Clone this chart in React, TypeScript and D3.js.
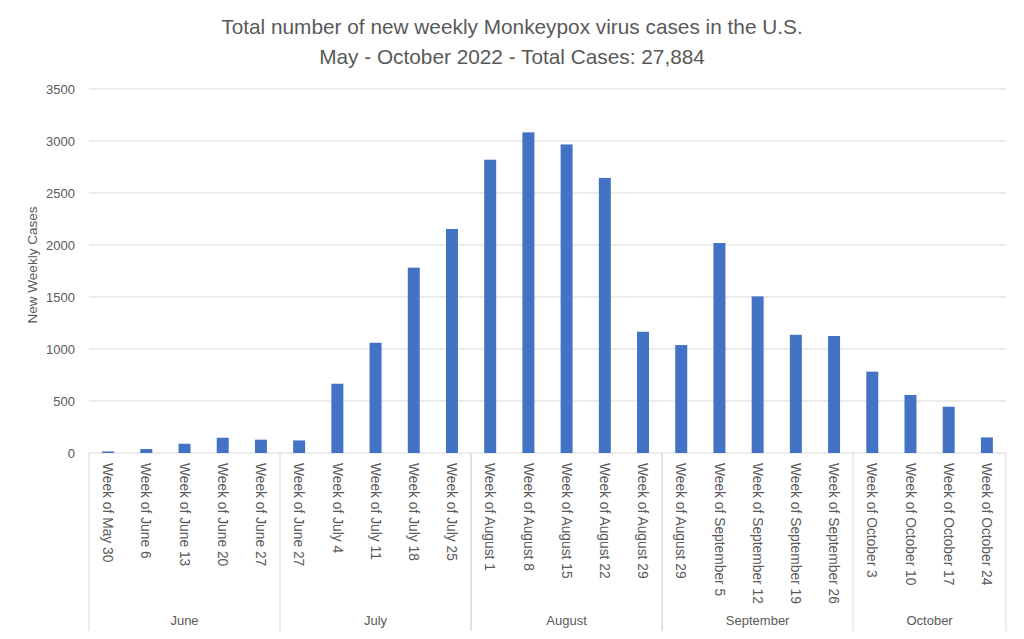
import React from "react";
import * as d3 from "d3";

const weeks: string[] = [
  "Week of May 30", "Week of June 6", "Week of June 13", "Week of June 20", "Week of June 27",
  "Week of June 27", "Week of July 4", "Week of July 11", "Week of July 18", "Week of July 25",
  "Week of August 1", "Week of August 8", "Week of August 15", "Week of August 22", "Week of August 29",
  "Week of August 29", "Week of September 5", "Week of September 12", "Week of September 19", "Week of September 26",
  "Week of October 3", "Week of October 10", "Week of October 17", "Week of October 24",
];
const months: string[] = [
  "June", "June", "June", "June", "June",
  "July", "July", "July", "July", "July",
  "August", "August", "August", "August", "August",
  "September", "September", "September", "September", "September",
  "October", "October", "October", "October",
];
const cases: number[] = [
  15, 38, 89, 147, 128,
  121, 666, 1060, 1782, 2154,
  2820, 3083, 2967, 2645, 1166,
  1038, 2019, 1506, 1137, 1125,
  782, 558, 445, 150,
];
const yTicks: number[] = [0, 500, 1000, 1500, 2000, 2500, 3000, 3500];
const titleLines: string[] = [
  "Total number of new weekly Monkeypox virus cases in the U.S.",
  "May - October 2022 - Total Cases: 27,884",
];
const yTitle = "New Weekly Cases";

const W = 1024;
const H = 639;
const left = 89;
const right = 1006;
const top = 89;
const bottom = 453;
const FONT = "'Liberation Sans', Arial, sans-serif";
const TEXT = "#595959";
const GRID = "#d9d9d9";
const BAR = "#4472C4";

export default function App() {
  const x = d3.scaleBand<number>().domain(d3.range(weeks.length)).range([left, right]).padding(0);
  const y = d3.scaleLinear().domain([0, 3500]).range([bottom, top]);
  const bw = x.bandwidth() / 3.19;

  const groups = d3.groups(d3.range(weeks.length), (i) => months[i]).map(([m, idx]) => ({
    name: m,
    x0: x(idx[0])!,
    x1: x(idx[idx.length - 1])! + x.bandwidth(),
  }));
  const seps = Array.from(new Set(groups.flatMap((g) => [g.x0, g.x1])));

  return (
    <svg width={W} height={H} style={{ position: "absolute", left: 0, top: 0, background: "#fff" }} fontFamily={FONT}>
      <rect x={0} y={0} width={W} height={H} fill="#fff" />
      {titleLines.map((t, i) => (
        <text key={i} x={512} y={34 + i * 30} textAnchor="middle" fontSize={20.8} fill={TEXT}>
          {t}
        </text>
      ))}
      {yTicks.map((t) => (
        <g key={t}>
          <line x1={left} x2={right} y1={y(t)} y2={y(t)} stroke={GRID} strokeWidth={1} />
          <text x={75} y={y(t)} dy="0.35em" textAnchor="end" fontSize={13} fill={TEXT}>
            {t}
          </text>
        </g>
      ))}
      <text
        transform={`translate(32,265) rotate(-90)`}
        textAnchor="middle"
        fontSize={13.5}
        fill={TEXT}
        dy="0.35em"
      >
        {yTitle}
      </text>
      {cases.map((v, i) => (
        <rect
          key={i}
          x={x(i)! + (x.bandwidth() - bw) / 2}
          y={y(v)}
          width={bw}
          height={y(0) - y(v)}
          fill={BAR}
        />
      ))}
      {seps.map((sx, i) => (
        <line key={i} x1={sx} x2={sx} y1={bottom} y2={631} stroke={GRID} strokeWidth={1} />
      ))}
      {weeks.map((w, i) => (
        <text
          key={i}
          transform={`translate(${x(i)! + x.bandwidth() / 2},463) rotate(90)`}
          dy="0.35em"
          fontSize={13.8}
          fill={TEXT}
        >
          {w}
        </text>
      ))}
      {groups.map((g) => (
        <text key={g.name} x={(g.x0 + g.x1) / 2} y={625} textAnchor="middle" fontSize={13} fill={TEXT}>
          {g.name}
        </text>
      ))}
    </svg>
  );
}
